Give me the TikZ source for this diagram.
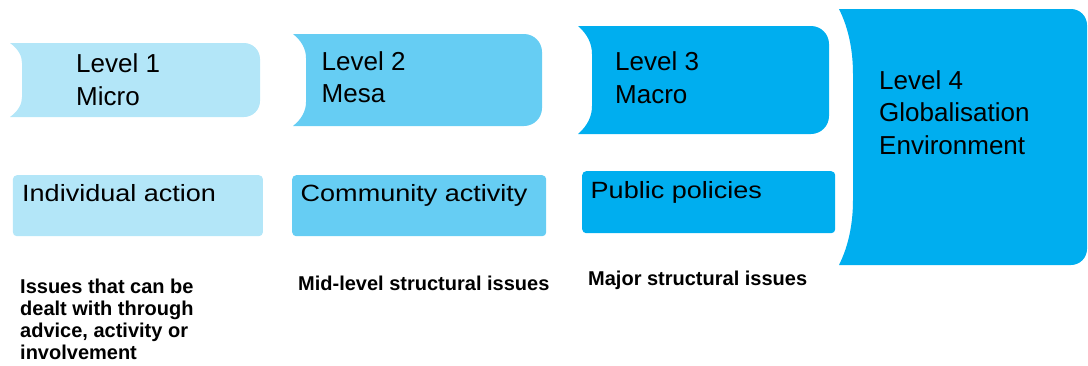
\documentclass[tikz,border=0pt]{standalone}
\usepackage{fontspec}
\setmainfont{Liberation Sans}
\newfontfamily\wideface[FakeStretch=1.15]{Liberation Sans}
\definecolor{lvA}{RGB}{179,230,248}
\definecolor{lvB}{RGB}{102,205,243}
\definecolor{lvC}{RGB}{0,174,239}
\newcommand\chevshape[8]{% L R T B d h r colour
  \fill[#8] (#1,#3) .. controls ({#1+0.7*#5},{#3+0.3*#6}) and ({#1+#5},{#3+0.65*#6}) .. ({#1+#5},{#3+#6})
   -- ({#1+#5},{#4-#6}) .. controls ({#1+#5},{#4-0.65*#6}) and ({#1+0.7*#5},{#4-0.3*#6}) .. (#1,#4)
   -- ({#2-#7},#4) .. controls ({#2-0.448*#7},#4) and (#2,{#4-0.448*#7}) .. (#2,{#4-#7})
   -- (#2,{#3+#7}) .. controls (#2,{#3+0.448*#7}) and ({#2-0.448*#7},#3) .. ({#2-#7},#3) -- cycle;}
\tikzset{
  lvtext/.style={anchor=base west, inner sep=0pt, align=left, font=\fontsize{26}{32.5}\selectfont},
  boxtext/.style={anchor=base west, inner sep=0pt, font=\wideface\fontsize{23.5}{28}\selectfont},
  note/.style={anchor=base west, inner sep=0pt, align=left, font=\fontsize{20}{22.3}\selectfont\bfseries},
  actbox/.style={rounded corners=4pt, inner sep=0pt, anchor=north west}
}
\begin{document}
\begin{tikzpicture}[x=1pt,y=-1pt]
\useasboundingbox (0,0) rectangle (1088,365);
% level shapes
\chevshape{10}{260}{43}{117}{12}{20}{16}{lvA}
\chevshape{293}{542}{34}{126}{13}{24}{18}{lvB}
\chevshape{578}{829}{26}{134}{14}{28}{18}{lvC}
\chevshape{839}{1087}{9}{265}{14}{65}{16}{lvC}
% level labels (anchor = baseline of last line)
\node[lvtext] (l1) at (76,105) {Level 1\\Micro};
\node[lvtext] (l2) at (321.5,102.7) {Level 2\\Mesa};
\node[lvtext] (l3) at (615,103) {Level 3\\Macro};
\node[lvtext] (l4) at (879,154) {Level 4\\Globalisation\\Environment};
% action boxes
\node[actbox, fill=lvA, minimum width=250pt, minimum height=61pt] (b1) at (12.7,175) {};
\node[actbox, fill=lvB, minimum width=254pt, minimum height=61pt] (b2) at (292,175) {};
\node[actbox, fill=lvC, minimum width=253pt, minimum height=62pt] (b3) at (582,171) {};
\node[boxtext] (t1) at (22,201.7) {Individual action};
\node[boxtext] (t2) at (300.5,201.7) {Community activity};
\node[boxtext] (t3) at (590.5,198) {Public policies};
% notes
\node[note] (n1) at (20,359.9) {Issues that can be\\dealt with through\\advice, activity or\\involvement};
\node[note] (n2) at (298,290) {Mid-level structural issues};
\node[note] (n3) at (588,285) {Major structural issues};
\end{tikzpicture}
\end{document}
